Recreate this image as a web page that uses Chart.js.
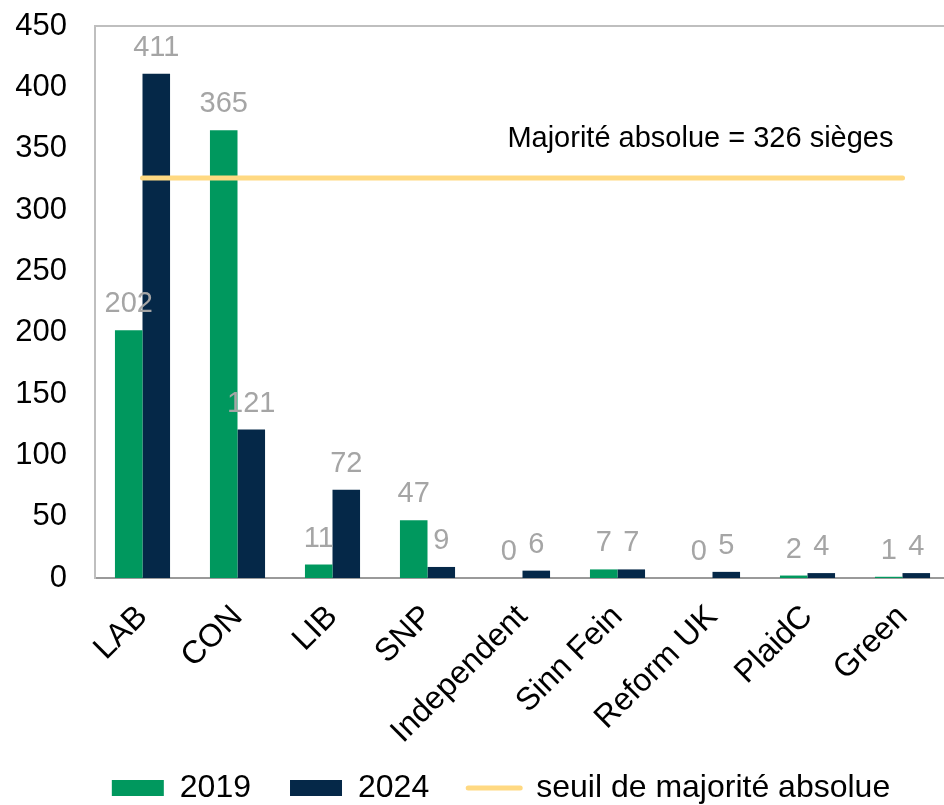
<!DOCTYPE html>
<html>
<head>
<meta charset="utf-8">
<script src="https://cdn.jsdelivr.net/npm/chart.js@4/dist/chart.umd.min.js"></script>
<style>
html,body{margin:0;padding:0;overflow:hidden;background:#fff}
#wrap{width:950px;height:805px;position:relative}
</style>
</head>
<body>
<div id="wrap"><canvas id="c" width="950" height="805"></canvas></div>
<script>
const categories = ['LAB', 'CON', 'LIB', 'SNP', 'Independent', 'Sinn Fein', 'Reform UK', 'PlaidC', 'Green'];
const seats2019 = [202, 365, 11, 47, 0, 7, 0, 2, 1];
const seats2024 = [411, 121, 72, 9, 6, 7, 5, 4, 4];
const majorityThreshold = 326;
const majorityLine = categories.map(() => majorityThreshold);
const yTicks = [0, 50, 100, 150, 200, 250, 300, 350, 400, 450];
const seriesNames = ['2019', '2024', 'seuil de majorité absolue'];
const annotationText = 'Majorité absolue = 326 sièges';

const FONT = "'Liberation Sans', Arial, Helvetica, sans-serif";
const GREEN = '#00985E';
const NAVY = '#052848';
const GOLD = '#FFD982';

const LEGEND_PAD = 39;
const LEGEND_FONT = 32;
const LEGEND_H = 72;
const LEGEND_SHIFT = 26;

const valueLabels = {
  id: 'valueLabels',
  afterDatasetsDraw(chart) {
    const ctx = chart.ctx;
    ctx.save();
    ctx.font = '29px ' + FONT;
    ctx.fillStyle = '#A5A5A5';
    ctx.textAlign = 'center';
    ctx.textBaseline = 'alphabetic';
    [0, 1].forEach(di => {
      const meta = chart.getDatasetMeta(di);
      meta.data.forEach((el, i) => {
        const v = chart.data.datasets[di].data[i];
        ctx.fillText(String(v), el.x, el.y - 18);
      });
    });
    ctx.restore();
  }
};

const annotation = {
  id: 'annotation',
  afterDatasetsDraw(chart) {
    const ctx = chart.ctx;
    const xs = chart.scales.x, ys = chart.scales.y;
    ctx.save();
    ctx.font = '29px ' + FONT;
    ctx.fillStyle = '#000';
    ctx.textAlign = 'right';
    ctx.textBaseline = 'alphabetic';
    ctx.fillText(annotationText, xs.getPixelForValue(categories.length - 1) - 9, ys.getPixelForValue(351));
    ctx.restore();
  }
};

const frame = {
  id: 'frame',
  beforeDatasetsDraw(chart) {
    const ctx = chart.ctx;
    const a = chart.chartArea;
    ctx.save();
    ctx.strokeStyle = '#BFBFBF';
    ctx.lineWidth = 2;
    ctx.beginPath();
    ctx.moveTo(a.left, a.top);
    ctx.lineTo(chart.width, a.top);
    ctx.stroke();
    ctx.restore();
  }
};

const legendFit = {
  id: 'legendFit',
  afterInit(chart) {
    const lg = chart.legend;
    if (!lg) return;
    const orig = lg.fit;
    lg.fit = function () {
      orig.call(this);
      this.height = LEGEND_H;
    };
  },
  afterLayout(chart) {
    const lg = chart.legend;
    if (lg) {
      lg.left += LEGEND_SHIFT;
      lg.right += LEGEND_SHIFT;
    }
    // let the rotated category labels use the space down to the canvas bottom
    const xs = chart.scales.x;
    if (xs) { xs.bottom = chart.height; }
  }
};

new Chart(document.getElementById('c'), {
  data: {
    labels: categories,
    datasets: [
      { type: 'bar', label: seriesNames[0], data: seats2019, backgroundColor: GREEN, borderWidth: 0, order: 1,
        categoryPercentage: 0.58, barPercentage: 1.0 },
      { type: 'bar', label: seriesNames[1], data: seats2024, backgroundColor: NAVY, borderWidth: 0, order: 1,
        categoryPercentage: 0.58, barPercentage: 1.0 },
      { type: 'line', label: seriesNames[2], data: majorityLine, borderColor: GOLD, backgroundColor: GOLD,
        borderWidth: 5, borderCapStyle: 'round', pointRadius: 0, pointHoverRadius: 0, pointStyle: 'line',
        fill: false, order: 0, tension: 0 }
    ]
  },
  options: {
    responsive: false,
    animation: false,
    devicePixelRatio: 1,
    layout: { padding: { top: 26, left: 0, right: 0, bottom: 0 } },
    plugins: {
      tooltip: { enabled: false },
      legend: {
        position: 'bottom',
        labels: {
          usePointStyle: true,
          pointStyleWidth: 52,
          boxHeight: 16,
          padding: LEGEND_PAD,
          color: '#000',
          font: { size: LEGEND_FONT, family: FONT },
          generateLabels(chart) {
            const items = Chart.defaults.plugins.legend.labels.generateLabels(chart);
            items.forEach(it => {
              if (it.datasetIndex === 2) {
                it.pointStyle = 'line'; it.lineWidth = 5; it.strokeStyle = GOLD; it.lineCap = 'round';
              } else {
                it.pointStyle = 'rect'; it.lineWidth = 0;
              }
            });
            return items.sort((a, b) => a.datasetIndex - b.datasetIndex);
          }
        }
      }
    },
    scales: {
      x: {
        grid: { display: false, drawTicks: false },
        border: { display: true, color: '#9A9A9A', width: 2 },
        ticks: { color: '#000', font: { size: 32, family: FONT }, maxRotation: 45, minRotation: 45, padding: 20, autoSkip: false },
        afterFit(s) { s.height = 805 - LEGEND_H - 578; s.paddingLeft = 0; s.paddingRight = 0; }
      },
      y: {
        min: 0, max: 450,
        grid: { display: false, drawTicks: false },
        border: { display: true, color: '#BFBFBF', width: 2 },
        ticks: { color: '#000', font: { size: 31, family: FONT }, padding: 28 },
        afterBuildTicks(s) { s.ticks = yTicks.map(v => ({ value: v })); },
        afterFit(s) { s.width = 95; s.paddingTop = 0; s.paddingBottom = 0; }
      }
    }
  },
  plugins: [legendFit, frame, valueLabels, annotation]
});
</script>
</body>
</html>
